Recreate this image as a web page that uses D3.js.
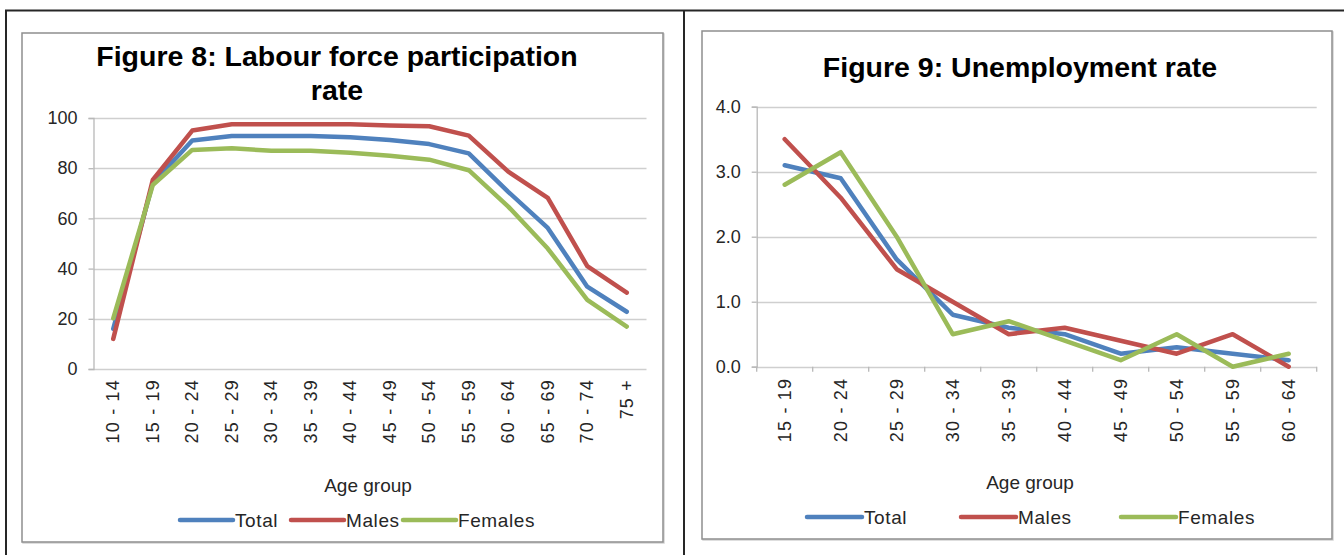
<!DOCTYPE html>
<html>
<head>
<meta charset="utf-8">
<script src="https://cdn.jsdelivr.net/npm/d3@7"></script>
<style>
  html, body { margin: 0; padding: 0; background: #fff; }
  svg { display: block; font-family: Arial, "Liberation Sans", sans-serif; }
</style>
</head>
<body>
<svg id="page" width="1344" height="555"></svg>
<script>
// Figure 8: labour force participation rate (%) by age group
const lfpAges = ["10 - 14","15 - 19","20 - 24","25 - 29","30 - 34","35 - 39","40 - 44",
                 "45 - 49","50 - 54","55 - 59","60 - 64","65 - 69","70 - 74","75 +"];
const lfpTotal   = [16, 74, 91, 92.8, 92.8, 92.8, 92.3, 91.2, 89.6, 85.9, 70.6, 56.2, 32.8, 22.8];
const lfpMales   = [12, 75.3, 95, 97.5, 97.5, 97.5, 97.5, 97, 96.7, 93, 78.6, 68.2, 41, 30.4];
const lfpFemales = [20.2, 73.3, 87.3, 87.9, 87, 87, 86.2, 85, 83.4, 79.2, 64.7, 48, 27.5, 16.9];
const lfpTicks = [0, 20, 40, 60, 80, 100];

// Figure 9: unemployment rate (%) by age group
const unAges = ["15 - 19","20 - 24","25 - 29","30 - 34","35 - 39","40 - 44",
                "45 - 49","50 - 54","55 - 59","60 - 64"];
const unTotal   = [3.1, 2.9, 1.65, 0.8, 0.6, 0.5, 0.2, 0.3, 0.2, 0.1];
const unMales   = [3.5, 2.6, 1.5, 1.0, 0.5, 0.6, 0.4, 0.2, 0.5, 0.0];
const unFemales = [2.8, 3.3, 2.0, 0.5, 0.7, 0.4, 0.1, 0.5, 0.0, 0.2];
const unTicks = [0, 1, 2, 3, 4];

const seriesNames = ["Total", "Males", "Females"];
const seriesColors = { Total: "#4F81BD", Males: "#C0504D", Females: "#9BBB59" };

const svg = d3.select("#page");

// outer frame of the two panels
const frame = svg.append("g").attr("stroke", "#262626").attr("stroke-width", 2).attr("fill", "none");
frame.append("line").attr("x1", 5).attr("x2", 1344).attr("y1", 10.5).attr("y2", 10.5);
frame.append("line").attr("x1", 6).attr("x2", 6).attr("y1", 10).attr("y2", 555);
frame.append("line").attr("x1", 684).attr("x2", 684).attr("y1", 10).attr("y2", 555);

function drawChart(cfg) {
  const g = svg.append("g");

  // chart border
  g.append("rect")
    .attr("x", cfg.box[0] + 1).attr("y", cfg.box[1] + 1)
    .attr("width", cfg.box[2] - cfg.box[0]).attr("height", cfg.box[3] - cfg.box[1])
    .attr("fill", "none").attr("stroke", "#d4d4d4").attr("stroke-width", 1.5);
  g.append("rect")
    .attr("x", cfg.box[0]).attr("y", cfg.box[1])
    .attr("width", cfg.box[2] - cfg.box[0]).attr("height", cfg.box[3] - cfg.box[1])
    .attr("fill", "#fff").attr("stroke", "#8e8e8e").attr("stroke-width", 1.5);

  // title
  const title = g.append("text")
    .attr("text-anchor", "middle").attr("font-weight", "bold")
    .attr("font-size", cfg.titleSize).attr("fill", "#000");
  cfg.title.forEach((line, i) => {
    title.append("tspan").attr("x", cfg.titleX).attr("y", cfg.titleY + i * 34).text(line);
  });

  const x = d3.scalePoint().domain(cfg.ages).range([cfg.plot[0], cfg.plot[2]]).padding(0.5);
  const y = d3.scaleLinear().domain(cfg.yDomain).range([cfg.plot[3], cfg.plot[1]]);

  // horizontal gridlines
  g.append("g").selectAll("line").data(cfg.ticks).join("line")
    .attr("x1", cfg.plot[0]).attr("x2", cfg.plot[2])
    .attr("y1", d => Math.round(y(d)) + 0.5).attr("y2", d => Math.round(y(d)) + 0.5)
    .attr("stroke", "#cfcfcf").attr("stroke-width", 1.3);

  // y axis
  const yAxis = g.append("g")
    .attr("transform", `translate(${cfg.plot[0]},0)`)
    .call(d3.axisLeft(y).tickValues(cfg.ticks).tickFormat(cfg.fmt).tickSize(5).tickPadding(11));
  yAxis.select(".domain").attr("stroke", "#b8b8b8").attr("stroke-width", 1.3);
  yAxis.selectAll(".tick line").attr("stroke", "#b8b8b8").attr("stroke-width", 1.3);
  yAxis.selectAll(".tick text")
    .attr("font-size", 18).attr("fill", "#262626")
    .attr("font-family", "Arial, 'Liberation Sans', sans-serif");

  // x axis: tick marks and rotated category labels
  const xAxis = g.append("g").attr("transform", `translate(0,${cfg.plot[3]})`);
  if (cfg.xTicks) {
    const step = (cfg.plot[2] - cfg.plot[0]) / cfg.ages.length;
    xAxis.selectAll("line.tk").data(d3.range(cfg.ages.length + 1)).join("line")
      .attr("class", "tk")
      .attr("x1", i => cfg.plot[0] + i * step).attr("x2", i => cfg.plot[0] + i * step)
      .attr("y1", 0).attr("y2", 5)
      .attr("stroke", "#b8b8b8").attr("stroke-width", 1.3);
  }
  xAxis.selectAll("text.cat").data(cfg.ages).join("text")
    .attr("class", "cat")
    .attr("transform", d => `translate(${x(d) + 6},${cfg.labelGap}) rotate(-90)`)
    .attr("text-anchor", "end")
    .attr("font-size", 18).attr("fill", "#262626")
    .attr("letter-spacing", 1.2)
    .text(d => d);

  // axis title
  g.append("text")
    .attr("x", cfg.axisTitle[0]).attr("y", cfg.axisTitle[1])
    .attr("text-anchor", "middle").attr("font-size", 19).attr("fill", "#262626")
    .text("Age group");

  // series lines
  const line = d3.line().x((d, i) => x(cfg.ages[i])).y(d => y(d));
  seriesNames.forEach(name => {
    g.append("path")
      .datum(cfg.series[name])
      .attr("d", line)
      .attr("fill", "none")
      .attr("stroke", seriesColors[name])
      .attr("stroke-width", 4.5)
      .attr("stroke-linejoin", "round")
      .attr("stroke-linecap", "round");
  });

  // legend
  const lg = g.append("g");
  seriesNames.forEach((name, i) => {
    const lx = cfg.legendX[i];
    lg.append("line")
      .attr("x1", lx).attr("x2", lx + cfg.legendLen)
      .attr("y1", cfg.legendY).attr("y2", cfg.legendY)
      .attr("stroke", seriesColors[name]).attr("stroke-width", 4.5)
      .attr("stroke-linecap", "round");
    lg.append("text")
      .attr("x", lx + cfg.legendLen + 2).attr("y", cfg.legendY + 7)
      .attr("font-size", 19).attr("fill", "#262626")
      .attr("letter-spacing", 0.6)
      .text(name);
  });
}

drawChart({
  box: [22, 33, 663, 542],
  title: ["Figure 8: Labour force participation", "rate"],
  titleX: 337, titleY: 66, titleSize: 28.5,
  ages: lfpAges,
  series: { Total: lfpTotal, Males: lfpMales, Females: lfpFemales },
  yDomain: [0, 100], ticks: lfpTicks, fmt: d3.format("d"),
  plot: [93.5, 118, 646.5, 369],
  xTicks: false,
  labelGap: 10,
  axisTitle: [368, 492],
  legendX: [180, 291, 403], legendLen: 53, legendY: 520
});

drawChart({
  box: [702, 31, 1332, 539],
  title: ["Figure 9: Unemployment rate"],
  titleX: 1020, titleY: 77, titleSize: 28.5,
  ages: unAges,
  series: { Total: unTotal, Males: unMales, Females: unFemales },
  yDomain: [0, 4], ticks: unTicks, fmt: d3.format(".1f"),
  plot: [756.7, 106.7, 1316.7, 366.7],
  xTicks: true,
  labelGap: 11,
  axisTitle: [1030, 489],
  legendX: [807, 961, 1121], legendLen: 55, legendY: 517
});
</script>
</body>
</html>
